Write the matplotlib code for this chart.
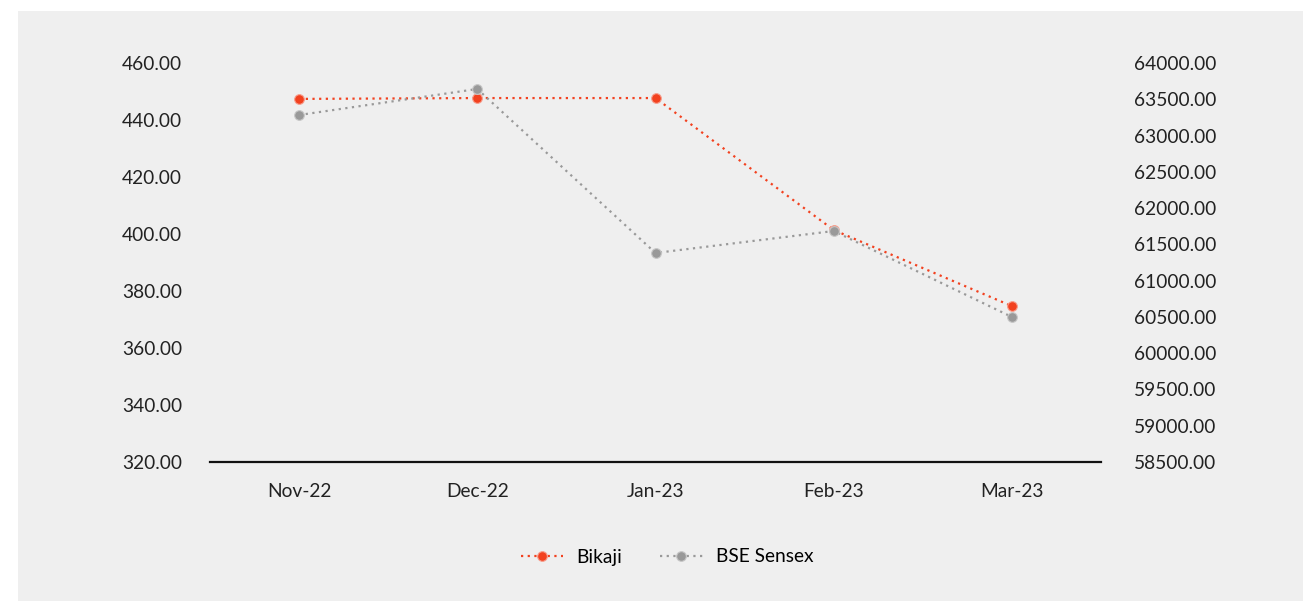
import matplotlib
matplotlib.use("Agg")
import matplotlib.pyplot as plt
from matplotlib.patches import Rectangle

months = ["Nov-22", "Dec-22", "Jan-23", "Feb-23", "Mar-23"]
bikaji = [447.4, 447.7, 447.7, 401.4, 374.7]
sensex = [63283, 63642, 61381, 61684, 60499]

left_ticks = [320, 340, 360, 380, 400, 420, 440, 460]
right_ticks = [58500, 59000, 59500, 60000, 60500, 61000, 61500, 62000,
               62500, 63000, 63500, 64000]

red = "#f2411f"
grey = "#999999"
bg = "#efefef"

plt.rcParams['font.family'] = ['Lato', 'DejaVu Sans']

fig = plt.figure(figsize=(13.03, 6.01), dpi=100)
fig.patches.append(Rectangle((18 / 1303, 0), 1, 1 - 11 / 601, transform=fig.transFigure,
                             facecolor=bg, edgecolor="none", zorder=-10))

ax = fig.add_axes([210 / 1303, 1 - 462 / 601, 891 / 1303, 399 / 601])
ax2 = ax.twinx()
for a in (ax, ax2):
    a.set_facecolor("none")
    for s in a.spines.values():
        s.set_visible(False)
ax.spines['bottom'].set_visible(True)
ax.spines['bottom'].set_linewidth(1.6)
ax.spines['bottom'].set_color("#111111")

x = range(len(months))
ax.plot(x, bikaji, linestyle=(0, (1, 2)), color=red, linewidth=1.6, marker="o",
        markersize=7, markeredgecolor="#f7a08f", markeredgewidth=0.8, label="Bikaji", zorder=3)
ax2.plot(x, sensex, linestyle=(0, (1, 2)), color=grey, linewidth=1.6, marker="o",
         markersize=7, markeredgecolor="#c8c8c8", markeredgewidth=0.8, label="BSE Sensex", zorder=2)

ax.set_xlim(-0.5, 4.5)
ax.set_ylim(320, 460)
ax2.set_ylim(58500, 64000)
ax.set_xticks(list(x))
ax.set_xticklabels(months)
ax.set_yticks(left_ticks)
ax.set_yticklabels([f"{v:.2f}" for v in left_ticks])
ax2.set_yticks(right_ticks)
ax2.set_yticklabels([f"{v:.2f}" for v in right_ticks])

fs = 13.8
ax.tick_params(axis='x', length=0, pad=15, labelsize=fs, labelcolor="#222222")
ax.tick_params(axis='y', length=0, pad=20, labelsize=fs, labelcolor="#222222")
ax2.tick_params(axis='y', length=0, pad=24, labelsize=fs, labelcolor="#222222")

h1, l1 = ax.get_legend_handles_labels()
h2, l2 = ax2.get_legend_handles_labels()
fig.legend(h1 + h2, l1 + l2, loc="center", bbox_to_anchor=(667 / 1303, 1 - 557 / 601),
           ncol=2, frameon=False, fontsize=fs, handlelength=2.2, handletextpad=0.7,
           columnspacing=2.0)

fig.savefig("out.png", dpi=100)
